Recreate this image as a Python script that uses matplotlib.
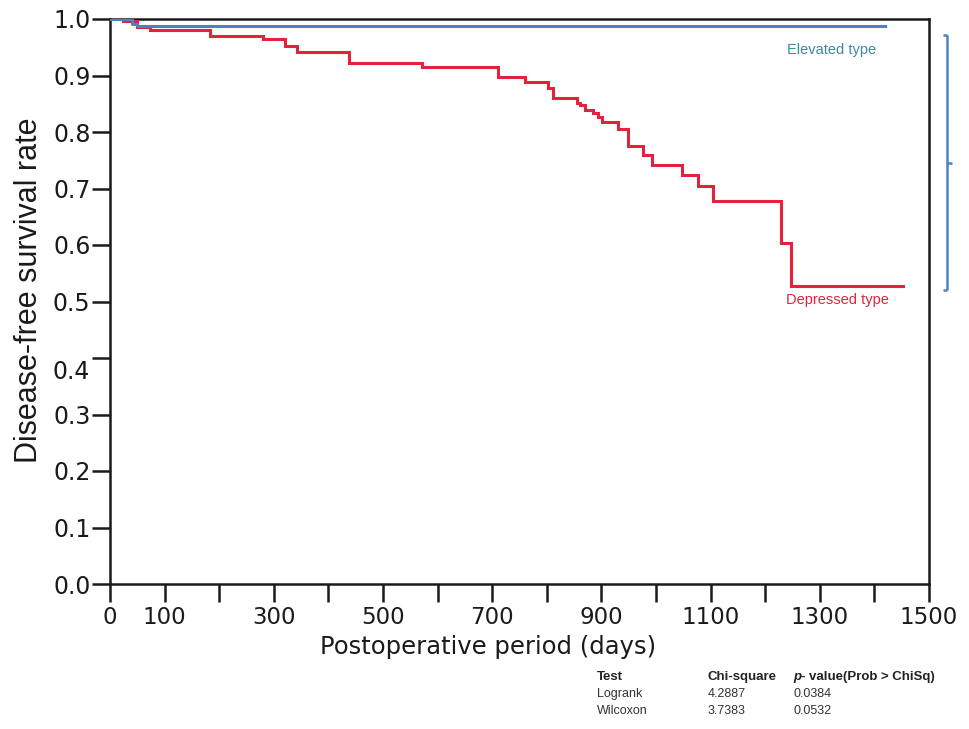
import matplotlib
matplotlib.use("Agg")
import matplotlib.pyplot as plt
from matplotlib import font_manager
from matplotlib.lines import Line2D

# ── data ────────────────────────────────────────────────────────────────────
depressed_days = [0, 24, 50, 73, 183, 280, 320, 342, 438, 571, 711, 760, 802,
                  811, 855, 861, 870, 885, 894, 901, 930, 949, 976, 993, 1048,
                  1077, 1104, 1229, 1247, 1452]
depressed_surv = [1.0, 0.997, 0.985, 0.980, 0.970, 0.965, 0.952, 0.941, 0.923,
                  0.915, 0.898, 0.888, 0.878, 0.860, 0.852, 0.848, 0.839, 0.833,
                  0.827, 0.818, 0.805, 0.775, 0.759, 0.742, 0.724, 0.705, 0.677,
                  0.604, 0.528, 0.528]

elevated_days = [0, 40, 49, 1419]
elevated_surv = [1.0, 0.991, 0.988, 0.988]

x_ticks = list(range(0, 1501, 100))
x_labels = ["0", "100", "", "300", "", "500", "", "700", "", "900", "",
            "1100", "", "1300", "", "1500"]
y_ticks = [0.0, 0.1, 0.2, 0.3, 0.4, 0.5, 0.6, 0.7, 0.8, 0.9, 1.0]

table_header = ["Test", "Chi-square", "p- value(Prob > ChiSq)"]
table_rows = [["Logrank", "4.2887", "0.0384"],
              ["Wilcoxon", "3.7383", "0.0532"]]

RED = "#E5223D"
BLUE = "#4F81BD"
TEAL = "#3A8BA0"
INK = "#1a1a1a"

W, H = 969, 729

_names = {f.name for f in font_manager.fontManager.ttflist}
if "Liberation Sans Narrow" in _names:
    NARROW, X_TICK_SIZE, X_LABEL_SIZE = "Liberation Sans Narrow", 21, 21
else:
    NARROW, X_TICK_SIZE, X_LABEL_SIZE = "DejaVu Sans", 16.5, 17.5

fig = plt.figure(figsize=(W / 100, H / 100), dpi=100)
fig.patch.set_facecolor("white")
ax = fig.add_axes([110 / W, (H - 584) / H, 819 / W, 565 / H])

ax.step(depressed_days, depressed_surv, where="post", color=RED, lw=2.2,
        solid_joinstyle="miter", zorder=3)
ax.step(elevated_days, elevated_surv, where="post", color=BLUE, lw=2.2,
        zorder=4)

ax.set_xlim(0, 1500)
ax.set_ylim(0, 1.0)

for s in ax.spines.values():
    s.set_linewidth(1.8)
    s.set_color(INK)

ax.set_xticks(x_ticks)
ax.set_xticklabels(x_labels, fontsize=X_TICK_SIZE, family=NARROW, color=INK)
ax.set_yticks(y_ticks)
ax.set_yticklabels([f"{v:.1f}" if v != 0.4 else "" for v in y_ticks],
                   fontsize=17, color=INK)
ax.tick_params(axis="both", direction="out", length=13, width=1.8,
               color=INK)
ax.tick_params(axis="y", pad=1)
ax.tick_params(axis="x", pad=3)
# the 0.4 label sits a bit below its tick in the original
ax.annotate("0.4", xy=(0, 0.4), xycoords=("axes fraction", "data"),
            xytext=(-14.5, -10), textcoords="offset points",
            ha="right", va="center", fontsize=17, color=INK,
            annotation_clip=False)

ax.set_xlabel("Postoperative period (days)", fontsize=X_LABEL_SIZE,
              family=NARROW, color=INK)
ax.xaxis.set_label_coords(0.4615, -0.09)
ax.set_ylabel("Disease-free survival rate", fontsize=22,
              family="Liberation Sans", color=INK)
ax.yaxis.set_label_coords(-0.08, 0.52)

ax.text(1322, 0.945, "Elevated type", color=TEAL, fontsize=10.5,
        family="Liberation Sans", ha="center", va="center")
ax.text(1332, 0.503, "Depressed type", color=RED, fontsize=10.5,
        family="Liberation Sans", ha="center", va="center")

# bracket on the right
def _px(x, y):
    return x / W, 1 - y / H

bx, top, bot, mid = 947, 35, 290, 163
for (x0, y0), (x1, y1) in [((943, top), (bx, top)), ((bx, top), (bx, bot)),
                           ((943, bot), (bx, bot)), ((bx, mid), (952, mid))]:
    p0, p1 = _px(x0, y0), _px(x1, y1)
    fig.add_artist(Line2D([p0[0], p1[0]], [p0[1], p1[1]], color=BLUE, lw=1.8,
                          transform=fig.transFigure, solid_capstyle="butt"))

# statistics table
col_x = [597, 708, 793]
row_y = [677, 694, 711]
for cx, txt in zip(col_x, table_header):
    fx, fy = _px(cx, row_y[0])
    if txt.startswith("p-"):
        fig.text(fx, fy, "p", fontsize=9.5, family="Liberation Sans",
                 weight="bold", style="italic", color="#222",
                 va="center", ha="left")
        fig.text(fx + 8 / W, fy, txt[1:], fontsize=9.5,
                 family="Liberation Sans", weight="bold", color="#222",
                 va="center", ha="left")
    else:
        fig.text(fx, fy, txt, fontsize=9.5, family="Liberation Sans",
                 weight="bold", color="#222", va="center", ha="left")
for ry, row in zip(row_y[1:], table_rows):
    for cx, txt in zip(col_x, row):
        fx, fy = _px(cx, ry)
        fig.text(fx, fy, txt, fontsize=9, family="Liberation Sans",
                 color="#333", va="center", ha="left")

fig.savefig("out.png", dpi=100, facecolor="white")
